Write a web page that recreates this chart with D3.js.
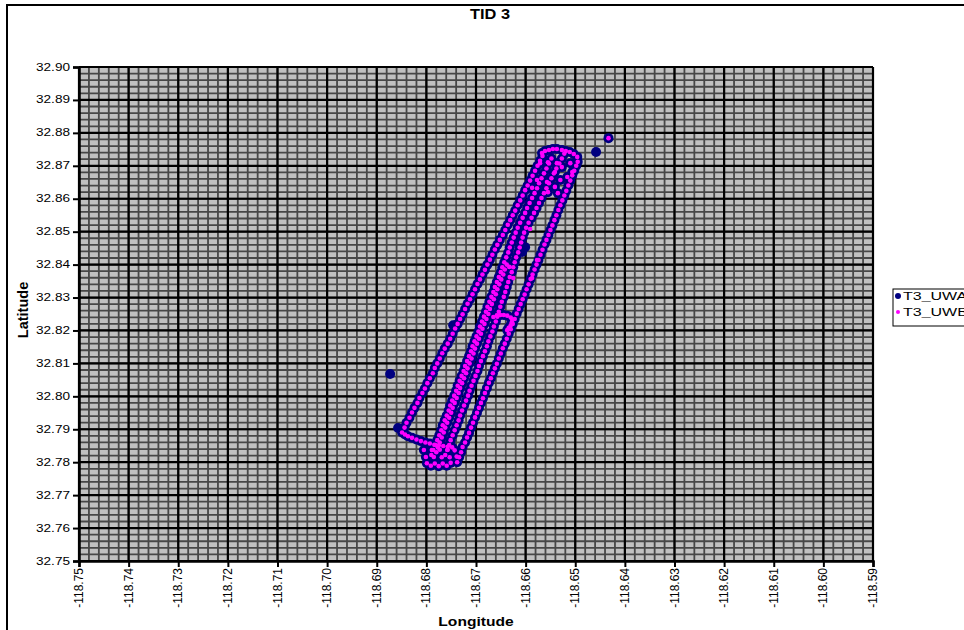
<!DOCTYPE html>
<html>
<head>
<meta charset="utf-8">
<title>TID 3</title>
<script src="https://cdn.jsdelivr.net/npm/d3@7"></script>
<style>
  body { margin:0; background:#fff; }
  svg { display:block; font-family: Arial, "Liberation Sans", sans-serif; }
</style>
</head>
<body>
<svg id="chart" width="964" height="630"></svg>
<script>
// tick labels
var xTicks = [-118.75,-118.74,-118.73,-118.72,-118.71,-118.70,-118.69,-118.68,-118.67,-118.66,-118.65,-118.64,-118.63,-118.62,-118.61,-118.60,-118.59];
var yTicks = [32.75,32.76,32.77,32.78,32.79,32.80,32.81,32.82,32.83,32.84,32.85,32.86,32.87,32.88,32.89,32.90];
var seriesNames = ['T3_UWA','T3_UWB'];

// track legs, [lon, lat]
var leftLeg = [[-118.6849,32.7890],[-118.6844,32.7905],[-118.6840,32.7920],[-118.6834,32.7935],[-118.6829,32.7951],[-118.6824,32.7965],[-118.6818,32.7980],[-118.6814,32.7995],[-118.6808,32.8010],[-118.6803,32.8024],[-118.6798,32.8040],[-118.6793,32.8055],[-118.6787,32.8070],[-118.6783,32.8086],[-118.6778,32.8100],[-118.6773,32.8115],[-118.6768,32.8131],[-118.6763,32.8145],[-118.6757,32.8160],[-118.6752,32.8175],[-118.6747,32.8190],[-118.6742,32.8206],[-118.6737,32.8220],[-118.6732,32.8235],[-118.6727,32.8249],[-118.6722,32.8265],[-118.6717,32.8281],[-118.6712,32.8295],[-118.6707,32.8310],[-118.6702,32.8325],[-118.6697,32.8341],[-118.6692,32.8355],[-118.6687,32.8370],[-118.6682,32.8384],[-118.6677,32.8400],[-118.6672,32.8415],[-118.6667,32.8430],[-118.6662,32.8446],[-118.6657,32.8460],[-118.6652,32.8475],[-118.6646,32.8490],[-118.6641,32.8505],[-118.6636,32.8521],[-118.6631,32.8535],[-118.6626,32.8550],[-118.6621,32.8564],[-118.6616,32.8580],[-118.6611,32.8595],[-118.6606,32.8610],[-118.6601,32.8626],[-118.6596,32.8640],[-118.6591,32.8655],[-118.6586,32.8670],[-118.6581,32.8685],[-118.6576,32.8700],[-118.6571,32.8715],[-118.6566,32.8730],[-118.6561,32.8745]];
var rightLeg = [[-118.6738,32.7800],[-118.6734,32.7815],[-118.6730,32.7830],[-118.6727,32.7846],[-118.6722,32.7860],[-118.6718,32.7875],[-118.6714,32.7889],[-118.6710,32.7905],[-118.6706,32.7920],[-118.6702,32.7936],[-118.6698,32.7950],[-118.6694,32.7965],[-118.6690,32.7980],[-118.6686,32.7994],[-118.6682,32.8010],[-118.6678,32.8025],[-118.6674,32.8041],[-118.6670,32.8055],[-118.6666,32.8070],[-118.6662,32.8085],[-118.6658,32.8099],[-118.6654,32.8115],[-118.6650,32.8130],[-118.6646,32.8146],[-118.6642,32.8160],[-118.6638,32.8175],[-118.6634,32.8190],[-118.6630,32.8204],[-118.6626,32.8220],[-118.6622,32.8235],[-118.6618,32.8251],[-118.6614,32.8265],[-118.6610,32.8280],[-118.6606,32.8295],[-118.6602,32.8309],[-118.6598,32.8325],[-118.6594,32.8340],[-118.6590,32.8356],[-118.6586,32.8370],[-118.6582,32.8385],[-118.6578,32.8400],[-118.6574,32.8414],[-118.6570,32.8430],[-118.6566,32.8445],[-118.6562,32.8461],[-118.6558,32.8475],[-118.6554,32.8490],[-118.6550,32.8505],[-118.6546,32.8519],[-118.6542,32.8535],[-118.6538,32.8550],[-118.6534,32.8566],[-118.6530,32.8580],[-118.6526,32.8595],[-118.6522,32.8610],[-118.6518,32.8624],[-118.6514,32.8640],[-118.6510,32.8655],[-118.6506,32.8671],[-118.6502,32.8685],[-118.6498,32.8700],[-118.6495,32.8712]];
var centerLeg = [[-118.6790,32.7822],[-118.6786,32.7837],[-118.6782,32.7852],[-118.6778,32.7867],[-118.6774,32.7882],[-118.6770,32.7897],[-118.6767,32.7912],[-118.6763,32.7927],[-118.6759,32.7942],[-118.6755,32.7957],[-118.6752,32.7972],[-118.6748,32.7987],[-118.6744,32.8002],[-118.6740,32.8017],[-118.6737,32.8032],[-118.6733,32.8047],[-118.6729,32.8062],[-118.6725,32.8077],[-118.6722,32.8092],[-118.6718,32.8107],[-118.6714,32.8122],[-118.6710,32.8137],[-118.6707,32.8152],[-118.6703,32.8167],[-118.6699,32.8182],[-118.6695,32.8197],[-118.6692,32.8212],[-118.6688,32.8227],[-118.6684,32.8242],[-118.6680,32.8257],[-118.6677,32.8272],[-118.6673,32.8287],[-118.6669,32.8302],[-118.6665,32.8317],[-118.6662,32.8332],[-118.6658,32.8347],[-118.6654,32.8362],[-118.6650,32.8377],[-118.6647,32.8392],[-118.6643,32.8407],[-118.6639,32.8422],[-118.6635,32.8437],[-118.6632,32.8452],[-118.6628,32.8467],[-118.6624,32.8482],[-118.6620,32.8497],[-118.6616,32.8512],[-118.6611,32.8527],[-118.6606,32.8542],[-118.6601,32.8557],[-118.6597,32.8572],[-118.6592,32.8587],[-118.6587,32.8602],[-118.6582,32.8617],[-118.6577,32.8632],[-118.6573,32.8647],[-118.6568,32.8662],[-118.6563,32.8677],[-118.6558,32.8692],[-118.6553,32.8707],[-118.6548,32.8722]];
var centerLeg2 = [[-118.6780,32.7830],[-118.6777,32.7845],[-118.6773,32.7860],[-118.6769,32.7875],[-118.6765,32.7890],[-118.6762,32.7905],[-118.6758,32.7920],[-118.6754,32.7935],[-118.6750,32.7950],[-118.6747,32.7965],[-118.6743,32.7980],[-118.6739,32.7995],[-118.6735,32.8010],[-118.6732,32.8025],[-118.6728,32.8040],[-118.6724,32.8055],[-118.6720,32.8070],[-118.6717,32.8085],[-118.6713,32.8100],[-118.6709,32.8115],[-118.6705,32.8130],[-118.6702,32.8145],[-118.6698,32.8160],[-118.6694,32.8175],[-118.6690,32.8190],[-118.6687,32.8205],[-118.6683,32.8220],[-118.6679,32.8235],[-118.6675,32.8250],[-118.6672,32.8265],[-118.6668,32.8280],[-118.6664,32.8295],[-118.6660,32.8310],[-118.6657,32.8325],[-118.6653,32.8340],[-118.6649,32.8355],[-118.6645,32.8370],[-118.6642,32.8385],[-118.6638,32.8400]];
var thirdLeg = [[-118.6762,32.7822],[-118.6758,32.7837],[-118.6754,32.7852],[-118.6751,32.7867],[-118.6747,32.7882],[-118.6743,32.7897],[-118.6739,32.7912],[-118.6735,32.7927],[-118.6732,32.7942],[-118.6728,32.7957],[-118.6724,32.7972],[-118.6720,32.7987],[-118.6716,32.8002],[-118.6713,32.8017],[-118.6709,32.8032],[-118.6705,32.8047],[-118.6701,32.8062],[-118.6697,32.8077],[-118.6694,32.8092],[-118.6690,32.8107],[-118.6686,32.8122],[-118.6682,32.8137],[-118.6678,32.8152],[-118.6675,32.8167],[-118.6671,32.8182],[-118.6667,32.8197],[-118.6664,32.8212],[-118.6660,32.8227],[-118.6657,32.8242],[-118.6654,32.8257],[-118.6651,32.8272],[-118.6648,32.8287],[-118.6644,32.8302],[-118.6641,32.8317],[-118.6638,32.8332],[-118.6635,32.8347],[-118.6632,32.8362],[-118.6628,32.8377],[-118.6625,32.8392],[-118.6622,32.8407],[-118.6619,32.8422],[-118.6615,32.8437],[-118.6612,32.8452],[-118.6609,32.8467],[-118.6606,32.8482],[-118.6603,32.8497],[-118.6599,32.8512],[-118.6594,32.8527],[-118.6588,32.8542],[-118.6583,32.8557],[-118.6578,32.8572],[-118.6573,32.8587],[-118.6568,32.8602],[-118.6563,32.8617],[-118.6558,32.8632],[-118.6553,32.8647],[-118.6548,32.8662],[-118.6543,32.8677],[-118.6538,32.8692],[-118.6532,32.8707],[-118.6527,32.8722],[-118.6522,32.8737]];
var topLeg = [[-118.6553,32.8748],[-118.6545,32.8751],[-118.6537,32.8751],[-118.6527,32.8748],[-118.6519,32.8745],[-118.6511,32.8742],[-118.6503,32.8736],[-118.6496,32.8727]];
var topBlob = [[-118.6567,32.8739],[-118.6571,32.8708],[-118.6555,32.8711],[-118.6537,32.8708],[-118.6541,32.8681],[-118.6527,32.8696],[-118.6510,32.8708],[-118.6506,32.8681],[-118.6516,32.8666],[-118.6530,32.8657],[-118.6541,32.8636],[-118.6555,32.8620],[-118.6535,32.8617],[-118.6557,32.8651],[-118.6577,32.8657],[-118.6587,32.8633]];
var bottomLeg = [[-118.6843,32.7884],[-118.6837,32.7879],[-118.6829,32.7874],[-118.6820,32.7869],[-118.6811,32.7864],[-118.6802,32.7860],[-118.6793,32.7857],[-118.6784,32.7853],[-118.6775,32.7851],[-118.6766,32.7849],[-118.6757,32.7847],[-118.6748,32.7845]];
var bottomLoops = [[-118.6805,32.7837],[-118.6789,32.7837],[-118.6773,32.7838],[-118.6757,32.7838],[-118.6743,32.7836],[-118.6801,32.7816],[-118.6785,32.7816],[-118.6769,32.7815],[-118.6753,32.7815],[-118.6739,32.7817],[-118.6799,32.7797],[-118.6783,32.7796],[-118.6767,32.7796],[-118.6751,32.7798],[-118.6791,32.7789],[-118.6775,32.7788],[-118.6759,32.7789]];
var sideLoop = [[-118.6665,32.8241],[-118.6658,32.8246],[-118.6651,32.8247],[-118.6644,32.8247],[-118.6637,32.8245],[-118.6630,32.8239],[-118.6627,32.8232],[-118.6628,32.8224],[-118.6630,32.8216],[-118.6634,32.8208],[-118.6637,32.8201]];
var uwaExtra = [[-118.6873,32.8068],[-118.6857,32.7904],[-118.6746,32.8216],[-118.6458,32.8742],[-118.6433,32.8784],[-118.6601,32.8453],[-118.6607,32.8438]];
var uwbExtra = [[-118.6587,32.8359],[-118.6577,32.8414],[-118.6625,32.8359],[-118.6633,32.8393],[-118.6591,32.8508],[-118.6433,32.8784]];

var track = [].concat(leftLeg, topLeg, rightLeg, bottomLoops, bottomLeg, centerLeg, centerLeg2, thirdLeg, sideLoop, topBlob);
var uwa = track.concat(uwaExtra);
var uwb = track.concat(uwbExtra);

var svg = d3.select('#chart');
var plotL = 79, plotR = 873, plotT = 67, plotB = 561;

var x = d3.scaleLinear().domain([-118.75, -118.59]).range([plotL, plotR]);
var y = d3.scaleLinear().domain([32.75, 32.90]).range([plotB, plotT]);

// chart area + border
svg.append('rect').attr('x', 7).attr('y', 5).attr('width', 1000).attr('height', 700)
   .attr('fill', '#fff').attr('stroke', '#000').attr('stroke-width', 2);

svg.append('text').attr('transform', 'translate(490,19) scale(1.17,1)')
   .attr('text-anchor', 'middle').attr('font-size', 14).attr('font-weight', 'bold').text('TID 3');

// plot area
svg.append('rect').attr('x', plotL).attr('y', plotT).attr('width', plotR - plotL).attr('height', plotB - plotT)
   .attr('fill', '#c0c0c0');

var minorX = d3.range(0, 81).map(function(i){ return -118.75 + i * 0.002; });
var minorY = d3.range(0, 76).map(function(i){ return 32.75 + i * 0.002; });

var grid = svg.append('g');
grid.selectAll('.mx').data(minorX).enter().append('line')
    .attr('x1', function(d){ return x(d); }).attr('x2', function(d){ return x(d); })
    .attr('y1', plotT).attr('y2', plotB)
    .attr('stroke', '#474747').attr('stroke-width', 1.8);
grid.selectAll('.my').data(minorY).enter().append('line')
    .attr('y1', function(d){ return y(d); }).attr('y2', function(d){ return y(d); })
    .attr('x1', plotL).attr('x2', plotR)
    .attr('stroke', '#474747').attr('stroke-width', 1.8);
grid.selectAll('.gx').data(xTicks).enter().append('line')
    .attr('x1', function(d){ return x(d); }).attr('x2', function(d){ return x(d); })
    .attr('y1', plotT).attr('y2', plotB)
    .attr('stroke', '#000').attr('stroke-width', 2.2);
grid.selectAll('.gy').data(yTicks).enter().append('line')
    .attr('y1', function(d){ return y(d); }).attr('y2', function(d){ return y(d); })
    .attr('x1', plotL).attr('x2', plotR)
    .attr('stroke', '#000').attr('stroke-width', 2.2);

// axes
var gy = svg.append('g').attr('transform', 'translate(' + plotL + ',0)')
    .call(d3.axisLeft(y).tickValues(yTicks).tickSize(6).tickFormat(''));
var gx = svg.append('g').attr('transform', 'translate(0,' + plotB + ')')
    .call(d3.axisBottom(x).tickValues(xTicks).tickSize(6).tickFormat(''));
[gx, gy].forEach(function(g){
  g.select('.domain').attr('stroke', '#000').attr('stroke-width', 2.5);
  g.selectAll('.tick line').attr('stroke', '#000').attr('stroke-width', 2);
});

svg.append('g').selectAll('text').data(yTicks).enter().append('text')
   .attr('transform', function(d){ return 'translate(70,' + (y(d) + 3.5) + ') scale(1.36,1)'; })
   .attr('text-anchor', 'end').attr('font-size', 10)
   .text(function(d){ return d.toFixed(2); });

svg.append('g').selectAll('text').data(xTicks).enter().append('text')
   .attr('transform', function(d){ return 'translate(' + (x(d) + 4) + ',568) rotate(-90)'; })
   .attr('text-anchor', 'end').attr('font-size', 12)
   .text(function(d){ return d.toFixed(2); });

svg.append('text').attr('transform', 'translate(28,310) rotate(-90)')
   .attr('text-anchor', 'middle').attr('font-size', 14.5).attr('font-weight', 'bold').text('Latitude');
svg.append('text').attr('transform', 'translate(476,626) scale(1.3,1)')
   .attr('text-anchor', 'middle').attr('font-size', 12).attr('font-weight', 'bold').text('Longitude');

// points: navy under, magenta on top
svg.append('g').selectAll('circle').data(uwa).enter().append('circle')
   .attr('cx', function(d){ return x(d[0]); }).attr('cy', function(d){ return y(d[1]); })
   .attr('r', 5).attr('fill', '#000080');
svg.append('g').selectAll('circle').data(uwb).enter().append('circle')
   .attr('cx', function(d){ return x(d[0]); }).attr('cy', function(d){ return y(d[1]); })
   .attr('r', 2.3).attr('fill', '#ff00ff');

// legend
var lg = svg.append('g');
lg.append('rect').attr('x', 893).attr('y', 289).attr('width', 120).attr('height', 37)
  .attr('fill', '#fff').attr('stroke', '#000').attr('stroke-width', 1);
lg.selectAll('circle').data(seriesNames).enter().append('circle')
  .attr('cx', 898).attr('cy', function(d, i){ return 296 + i * 16; })
  .attr('r', function(d, i){ return i ? 2 : 3; })
  .attr('fill', function(d, i){ return i ? '#ff00ff' : '#000080'; });
lg.selectAll('text').data(seriesNames).enter().append('text')
  .attr('transform', function(d, i){ return 'translate(903,' + (299.5 + i * 16) + ') scale(1.6,1)'; })
  .attr('font-size', 10).text(function(d){ return d; });
</script>
</body>
</html>
